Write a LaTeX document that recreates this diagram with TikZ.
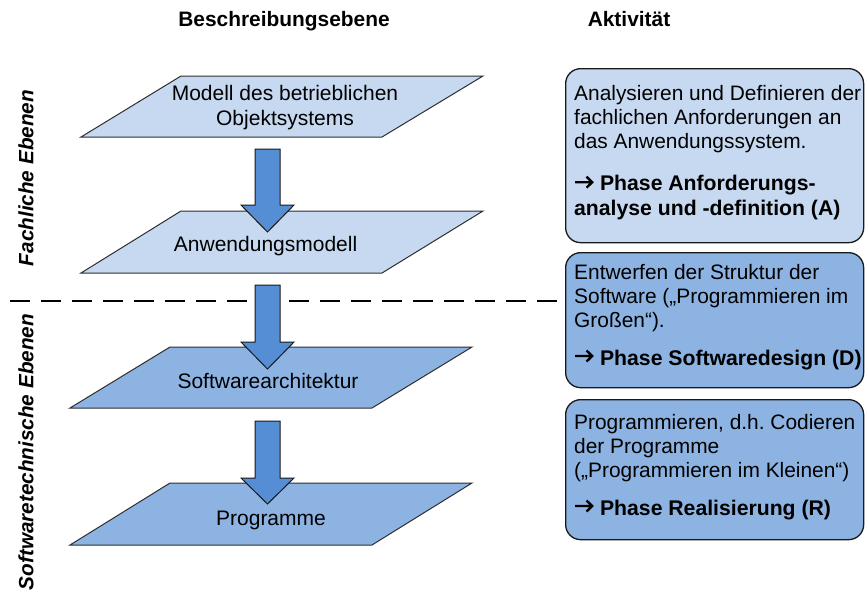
\documentclass[tikz,border=0pt]{standalone}
\usepackage{fontspec}
\setmainfont{Liberation Sans}
\definecolor{lightfill}{HTML}{C6D9F1}
\definecolor{darkfill}{HTML}{8DB3E2}
\definecolor{arrowfill}{HTML}{558ED5}
\definecolor{edgecol}{HTML}{2E2E2E}
\frenchspacing
\newcommand{\arrowgap}{\hspace*{20pt}}
\newcommand{\phasefont}{\fontsize{21.2}{24}\selectfont\bfseries}
\begin{document}
\begin{tikzpicture}[x=1pt,y=-1pt,
  plane/.style={draw=edgecol, line width=1pt, line join=miter},
  blockarrow/.style={draw=black!90, line width=1pt, fill=arrowfill, line join=miter},
  lbl/.style={font=\fontsize{21}{24.5}\selectfont, inner sep=0pt, anchor=base},
  hdr/.style={font=\fontsize{20.9}{24.5}\selectfont\bfseries, inner sep=0pt, anchor=base},
  side/.style={font=\fontsize{20.7}{24.5}\selectfont\bfseries\itshape, inner sep=0pt, rotate=90, anchor=base},
  actbox/.style={draw=black!90, line width=1.3pt, rounded corners=15pt, inner sep=0pt, anchor=north west, minimum width=298pt},
  acttext/.style={font=\fontsize{20.9}{24.4}\selectfont, inner sep=0pt, anchor=base west},
  divider/.style={line width=2.3pt, dash pattern=on 20pt off 11pt, black},
  phasearr/.pic={\draw[line width=2.4pt, line cap=butt, line join=miter]
     (0,-9) -- (16.5,-9) (11.5,-14.5) -- (17.2,-9) -- (11.5,-3.5);}
]
\useasboundingbox (0,0) rectangle (865,592);

% headers
\node[hdr] (h1) at (284,26) {Beschreibungsebene};
\node[hdr] (h2) at (629,26) {Aktivität};

% side labels
\node[side] (s1) at (33.3,178) {Fachliche Ebenen};
\node[side] (s2) at (33.3,452) {Softwaretechnische Ebenen};

% planes
\draw[plane, fill=lightfill] (81,137) -- (181,76) -- (483,76) -- (382,137) -- cycle;
\draw[plane, fill=lightfill] (81,273) -- (181,211) -- (483,211) -- (382,273) -- cycle;
\draw[plane, fill=darkfill] (70,408) -- (170,347) -- (472,347) -- (372,408) -- cycle;
\draw[plane, fill=darkfill] (70,545) -- (170,483) -- (472,483) -- (372,545) -- cycle;

% activity boxes
\node[actbox, fill=lightfill, minimum height=174pt] (b1) at (565,68) {};
\node[actbox, fill=darkfill, minimum height=135pt] (b2) at (565,252) {};
\node[actbox, fill=darkfill, minimum height=140pt] (b3) at (565,399) {};

% divider
\coordinate (dstart) at (10,300.7);
\draw[divider] (dstart) -- (dstart -| b2.west);

% block arrows
\foreach \yt/\yh/\yp [count=\i] in {149/205/232, 285/342/369, 421/478/504}{
  \draw[blockarrow] (255,\yt) -- (280,\yt) -- (280,\yh) -- (294,\yh) -- (267.5,\yp)
     -- (241,\yh) -- (255,\yh) -- cycle;
}

% plane labels
\node[lbl] (p1) at (285,100.7) {\parbox[t]{300pt}{\centering Modell des betrieblichen\\Objektsystems}};
\node[lbl] (p2) at (265.6,251.7) {Anwendungsmodell};
\node[lbl] (p3) at (268,388) {Softwarearchitektur};
\node[lbl] (p4) at (271,525) {Programme};

% activity texts
\node[acttext] (t1) at (574,100) {\parbox[t]{295pt}{\raggedright
  Analysieren und Definieren der\\fachlichen Anforderungen an\\das Anwendungssystem.\\[17.6pt]
  {\phasefont\arrowgap\ Phase Anforderungs-}\\{\phasefont analyse und -definition (A)}}};
\node[acttext] (t2) at (574,279) {\parbox[t]{295pt}{\raggedright
  Entwerfen der Struktur der\\Software („Programmieren im\\Großen“).\\[12.9pt]
  {\phasefont\arrowgap\ Phase Softwaredesign (D)}}};
\node[acttext] (t3) at (574,429) {\parbox[t]{295pt}{\raggedright
  Programmieren, d.h. Codieren\\der Programme\\(„Programmieren im Kleinen“)\\[12.9pt]
  {\phasefont\arrowgap\ Phase Realisierung (R)}}};

% phase arrows
\pic at (575,191.2) {phasearr};
\pic at (575,365) {phasearr};
\pic at (575,515) {phasearr};
\end{tikzpicture}
\end{document}
